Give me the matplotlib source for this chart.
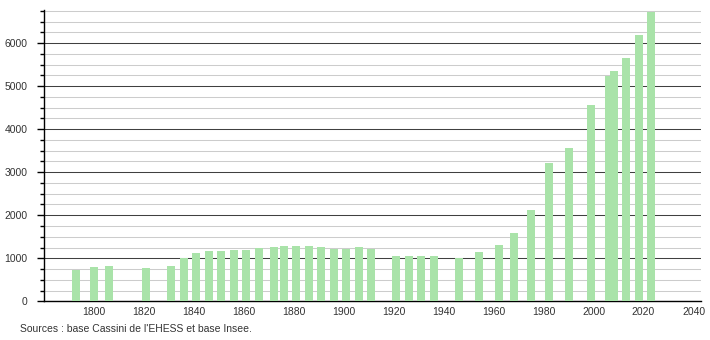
import matplotlib
matplotlib.use("Agg")
import matplotlib.pyplot as plt
from matplotlib.ticker import MultipleLocator

years = [1793, 1800, 1806, 1821, 1831, 1836, 1841, 1846, 1851, 1856, 1861, 1866,
         1872, 1876, 1881, 1886, 1891, 1896, 1901, 1906, 1911, 1921, 1926, 1931,
         1936, 1946, 1954, 1962, 1968, 1975, 1982, 1990, 1999, 2006, 2008, 2013,
         2018, 2023]
population = [730, 800, 820, 765, 820, 1005, 1120, 1170, 1170, 1190, 1190, 1245,
              1255, 1285, 1285, 1285, 1255, 1215, 1215, 1255, 1215, 1050, 1050, 1050,
              1050, 1005, 1145, 1310, 1590, 2120, 3220, 3570, 4565, 5240, 5355, 5660,
              6195, 6730]
x_ticks = [1800, 1820, 1840, 1860, 1880, 1900, 1920, 1940, 1960, 1980, 2000, 2020, 2040]
y_ticks = [0, 1000, 2000, 3000, 4000, 5000, 6000]
source_text = "Sources : base Cassini de l'EHESS et base Insee."

plt.rcParams['font.family'] = ['Liberation Sans', 'DejaVu Sans']

fig = plt.figure(figsize=(7.1, 3.4), dpi=100)
ax = fig.add_axes([44 / 710, (340 - 301.3) / 340, (701 - 44) / 710, (301.3 - 10) / 340])

ax.bar(years, population, width=3.2, color='#a9e3a9', zorder=3, linewidth=0)

ax.set_xlim(1780, 2043)
ax.set_ylim(0, 6770)

ax.set_xticks(x_ticks)
ax.set_xticklabels([str(v) for v in x_ticks])
ax.set_yticks(y_ticks)
ax.set_yticklabels([str(v) for v in y_ticks])
ax.yaxis.set_minor_locator(MultipleLocator(250))

ax.grid(axis='y', which='major', color='#404040', linewidth=0.75, zorder=1)
ax.grid(axis='y', which='minor', color='#cccccc', linewidth=0.75, zorder=1)
ax.set_axisbelow(True)

for s in ['top', 'right']:
    ax.spines[s].set_visible(False)
ax.spines['left'].set_color('black')
ax.spines['bottom'].set_color('black')
ax.spines['left'].set_linewidth(1.0)
ax.spines['bottom'].set_linewidth(1.0)

ax.tick_params(axis='x', which='both', length=0, pad=4, labelsize=7.5, colors='#333333')
ax.tick_params(axis='y', which='major', length=5, width=1, pad=7, labelsize=7.5, colors='#333333')
ax.tick_params(axis='y', which='minor', length=3, width=1, color='black')
ax.tick_params(axis='y', which='major', color='black')

fig.text(20 / 710, 1 - 329 / 340, source_text, fontsize=7.5, color='#333333',
         ha='left', va='center')

fig.savefig("out.png", dpi=100)
